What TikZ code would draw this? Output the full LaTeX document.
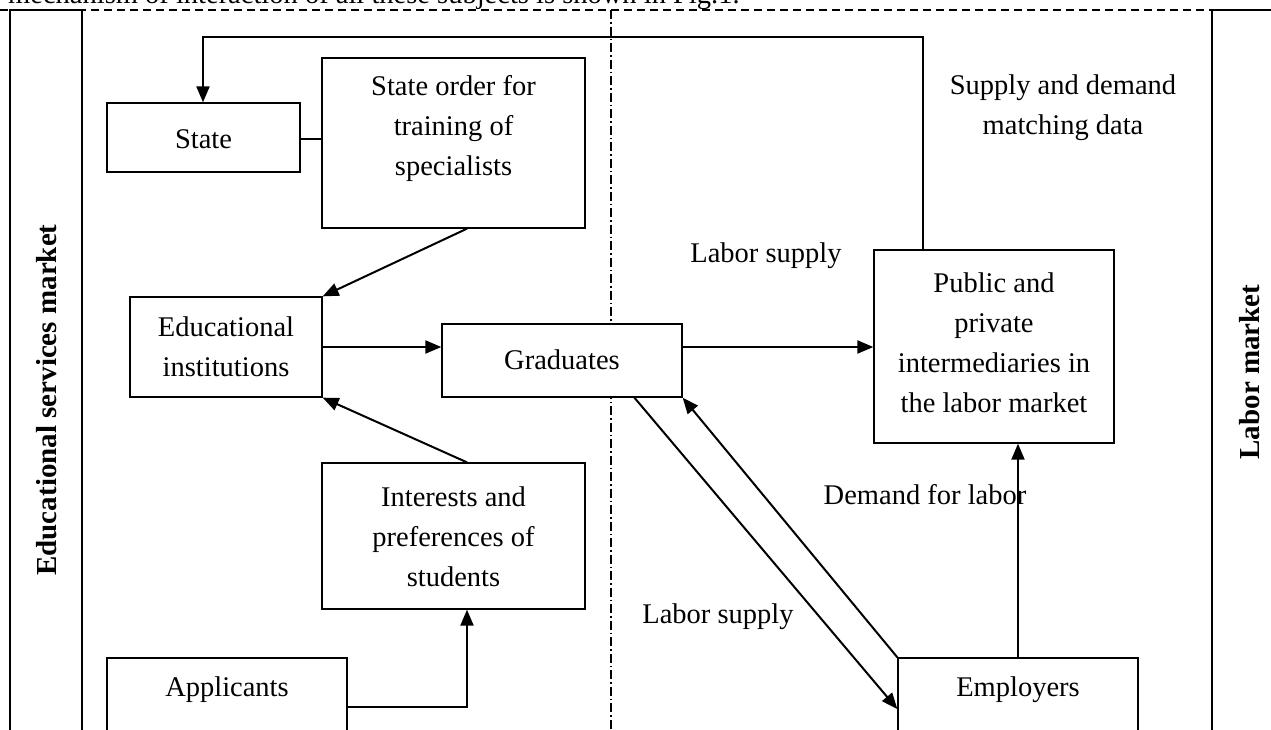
\documentclass[tikz,border=0pt]{standalone}
\usepackage{fontspec}
\setmainfont{Liberation Serif}
\usetikzlibrary{arrows.meta,calc}
\begin{document}
\begin{tikzpicture}[x=1pt,y=-1pt,
  box/.style={draw, fill=white, line width=1.3pt, inner sep=0pt},
  txt/.style={align=center, font=\fontsize{28.5}{40}\selectfont, inner sep=0pt},
  side/.style={font=\bfseries\fontsize{29}{35}\selectfont, rotate=90, inner sep=0pt},
  arr/.style={line width=2pt, -{Triangle[length=16pt,width=13pt]}},
  thinline/.style={line width=1.3pt}]
\useasboundingbox (0,0) rectangle (1271,729);
% top clipped sentence
\node[txt, anchor=base west] (sentence) at (8,3) {mechanism of interaction of all these subjects is shown in Fig.1.};
% frame lines
\coordinate (dl) at (0,10);
\coordinate (dr) at (1271,10);
\draw[line width=1.2pt, dash pattern=on 8pt off 5pt] (dl) -- (dr);
\coordinate (dd1) at (611,10);
\coordinate (dd2) at (611,729);
\draw[line width=1.3pt, dash pattern=on 9pt off 3pt on 1.5pt off 3pt] (dd1) -- (dd2);
% side columns
\node[draw, line width=1.3pt, inner sep=0pt, minimum width=72, minimum height=750] (leftcol) at (46,385) {};
\node[side] (leftlbl) at (47,400) {Educational services market};
\node[draw, line width=1.3pt, inner sep=0pt, minimum width=120, minimum height=750] (rightcol) at (1272,385) {};
\node[side] (rightlbl) at (1250,372) {Labor market};
% boxes
\node[box, minimum width=193, minimum height=69] (state) at (203.5,137.5) {};
\node[txt] (statet) at (203.5,139) {State};
\node[box, minimum width=263, minimum height=170] (order) at (453.5,143) {};
\node[txt] (ordert) at (453.5,128) {State order for\\training of\\specialists};
\node[box, minimum width=192, minimum height=100] (educ) at (226,347) {};
\node[txt] (educt) at (226,347) {Educational\\institutions};
\node[box, minimum width=240, minimum height=73] (grad) at (562,360.5) {};
\node[txt] (gradt) at (562,360) {Graduates};
\node[box, minimum width=240, minimum height=193] (public) at (994,346.5) {};
\node[txt] (publict) at (994,343) {Public and\\private\\intermediaries in\\the labor market};
\node[box, minimum width=263, minimum height=146] (inter) at (453.5,536) {};
\node[txt] (intert) at (453.5,537) {Interests and\\preferences of\\students};
\node[box, minimum width=240, minimum height=102] (appl) at (227,709) {};
\node[txt] (applt) at (227,690) {Applicants};
\node[box, minimum width=240, minimum height=102] (empl) at (1018,709) {};
\node[txt] (emplt) at (1018,690) {Employers};
% free labels
\node[txt] (sdm) at (1063,108) {Supply and demand\\matching data};
\node[txt] (ls1) at (766,256) {Labor supply};
\node[txt] (ls2) at (718,617) {Labor supply};
\node[txt] (dfl) at (925,495) {Demand for labor};
% connectors
\coordinate (fbr) at (923,37);
\coordinate (fbl) at (203,37);
\draw[arr] (public.north -| fbr) -- (fbr) -- (fbl) -- (state.north -| fbl);
\draw[thinline] (state.east |- statet) -- (order.west |- statet);
\coordinate (o1) at ($(order.south west)!0.551!(order.south east)$);
\draw[arr] (o1) -- (educ.north east);
\draw[arr] (inter.north -| o1) -- (educ.south east);
\draw[arr] (educ.east) -- (educ.east -| grad.west);
\draw[arr] (educ.east -| grad.east) -- (educ.east -| public.west);
\coordinate (g1) at ($(grad.south west)!0.8!(grad.south east)$);
\draw[arr] (g1) -- (empl.west);
\draw[arr] (empl.north west) -- (grad.south east);
\draw[arr] (empl.north) -- (empl.north |- public.south);
\coordinate (a1) at (467,707);
\draw[arr] (appl.east |- a1) -- (a1) -- (inter.south -| a1);
\end{tikzpicture}
\end{document}
